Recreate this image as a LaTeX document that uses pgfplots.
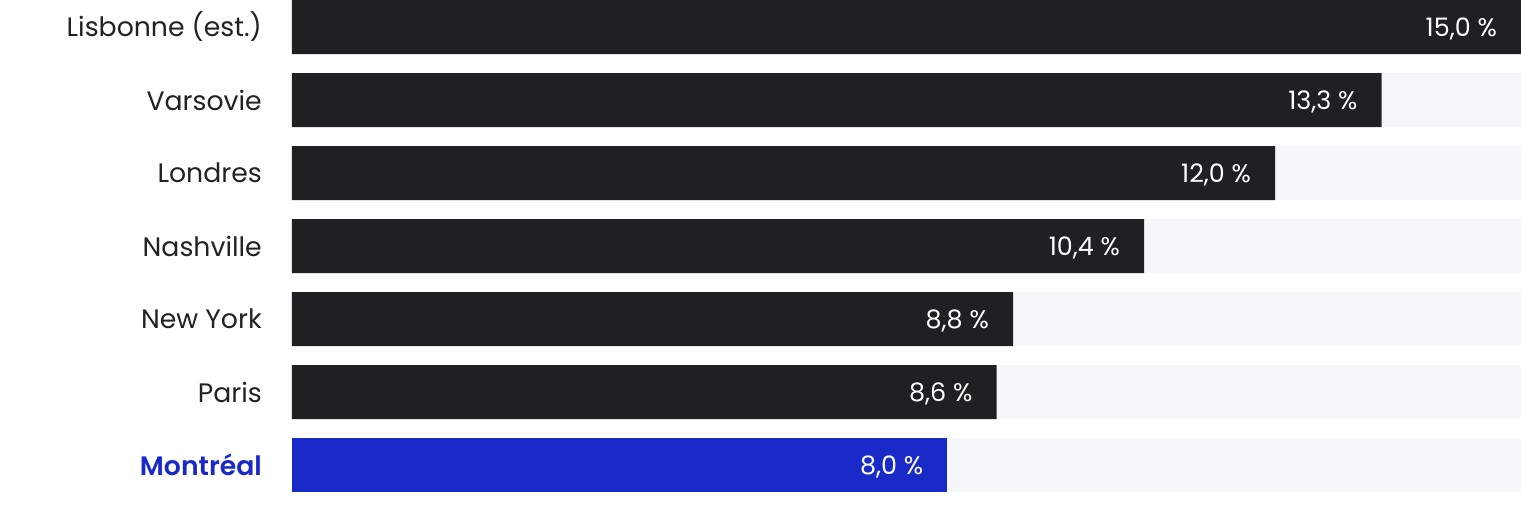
\documentclass[border=0pt]{standalone}
\usepackage{pgfplots}
\pgfplotsset{compat=1.18}
\usepackage{fontspec}
\setmainfont{Poppins}
\newfontfamily\medfont{Poppins}[UprightFont={* SemiBold}]
\definecolor{bardark}{HTML}{1F2022}
\definecolor{barblue}{HTML}{1A2AC8}
\definecolor{track}{HTML}{F6F7F9}
\definecolor{labtxt}{HTML}{222222}
\begin{document}
\begin{tikzpicture}
\begin{axis}[
  name=ax,
  scale only axis, width=1229bp, height=506bp,
  xmin=0, xmax=15, ymin=-0.3699, ymax=6.5616, y dir=reverse,
  axis line style={draw=none}, tick style={draw=none},
  xtick=\empty,
  ytick={0,1,2,3,4,5,6},
  yticklabels={Lisbonne (est.),Varsovie,Londres,Nashville,New York,Paris,{\color{barblue}\medfont Montréal}},
  yticklabel style={font=\fontsize{26.8}{30}\selectfont, text=labtxt, anchor=east, inner sep=0pt, xshift=-30bp},
  clip=false,
  /pgf/number format/assume math mode=true,
]
\addplot[xbar, bar width=54bp, bar shift=0pt, fill=track, draw=none]
  coordinates {(15,0) (15,1) (15,2) (15,3) (15,4) (15,5) (15,6)};
\addplot[xbar, bar width=54bp, bar shift=0pt, fill=bardark, draw=none,
  point meta=x,
  nodes near coords={\pgfmathprintnumber[fixed,fixed zerofill,precision=1,use comma]{\pgfplotspointmeta}~\%},
  nodes near coords style={anchor=east, inner sep=0pt, xshift=-24bp, yshift=-1.5bp, text=white, font=\fontsize{25.5}{29}\selectfont}]
  coordinates {(15,0) (13.3,1) (12.0,2) (10.4,3) (8.8,4) (8.6,5)};
\addplot[xbar, bar width=54bp, bar shift=0pt, fill=barblue, draw=none,
  point meta=x,
  nodes near coords={\pgfmathprintnumber[fixed,fixed zerofill,precision=1,use comma]{\pgfplotspointmeta}~\%},
  nodes near coords style={anchor=east, inner sep=0pt, xshift=-24bp, yshift=-1.5bp, text=white, font=\fontsize{25.5}{29}\selectfont}]
  coordinates {(8.0,6)};
\coordinate (bl) at (rel axis cs:0,0);
\coordinate (tr) at (rel axis cs:1,1);
\end{axis}
\pgfresetboundingbox
\path ([xshift=-292bp]bl) rectangle (tr);
\end{tikzpicture}
\end{document}
